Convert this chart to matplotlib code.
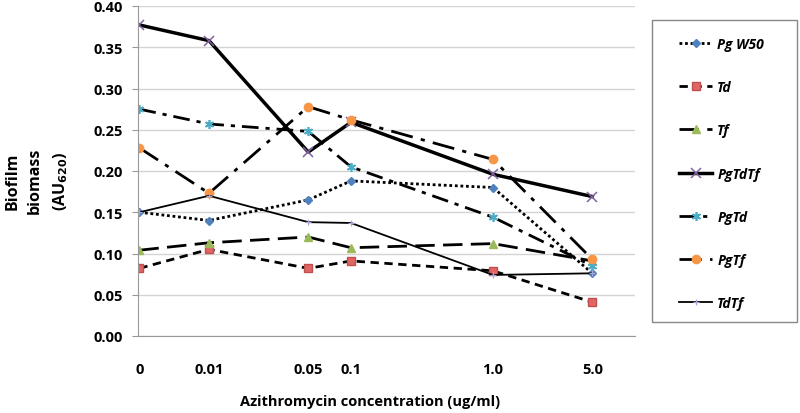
import matplotlib
matplotlib.use("Agg")
import matplotlib.pyplot as plt
from matplotlib.patches import Rectangle
from matplotlib.ticker import FixedLocator, MultipleLocator, NullLocator

plt.rcParams['font.family'] = ['Open Sans', 'DejaVu Sans']

# Data
conc_labels = ["0", "0.01", "0.05", "0.1", "1.0", "5.0"]
conc_values = [0.0, 0.01, 0.05, 0.1, 1.0, 5.0]
zero_pos = 10 ** -2.49  # log-axis stand-in for concentration 0

pg_w50 = [0.150, 0.140, 0.165, 0.188, 0.180, 0.076]
td     = [0.082, 0.105, 0.082, 0.091, 0.079, 0.041]
tf     = [0.104, 0.113, 0.120, 0.107, 0.112, 0.091]
pgtdtf = [0.377, 0.358, 0.223, 0.259, 0.196, 0.169]
pgtd   = [0.275, 0.257, 0.248, 0.205, 0.144, 0.085]
pgtf   = [0.228, 0.173, 0.278, 0.262, 0.214, 0.093]
tdtf   = [0.150, 0.170, 0.138, 0.137, 0.074, 0.076]

x = [zero_pos if c == 0 else c for c in conc_values]

fig = plt.figure(figsize=(8.0, 4.14), dpi=100)
ax = fig.add_axes([138/800, 1 - 337/414, (635-138)/800, (337-7)/414])

series = [
    ("Pg W50", pg_w50, dict(ls=(0, (1, 1)), lw=2.0, marker='D', ms=4.5, mfc='#4F81BD', mec='#4F81BD')),
    ("Td", td, dict(ls=(0, (3, 2)), lw=2.0, marker='s', ms=5.5, mfc='#E06666', mec='#C0504D')),
    ("Tf", tf, dict(ls=(0, (7, 3)), lw=2.0, marker='^', ms=6, mfc='#9BBB59', mec='#9BBB59')),
    ("PgTdTf", pgtdtf, dict(ls='-', lw=2.5, marker='x', ms=7.5, mew=1.1, mfc='#8064A2', mec='#8064A2')),
    ("PgTd", pgtd, dict(ls=(0, (6, 2.5, 1.5, 2.5)), lw=2.0, marker=(6, 2, 0), ms=6.5, mew=1.2, mfc='#4BACC6', mec='#4BACC6')),
    ("PgTf", pgtf, dict(ls=(0, (8, 3, 1.5, 3)), lw=2.0, marker='o', ms=6, mfc='#F79646', mec='#F79646')),
    ("TdTf", tdtf, dict(ls='-', lw=1.3, marker='+', ms=5, mew=0.9, mfc='#A8A8D8', mec='#A8A8D8')),
]

for label, vals, st in series:
    ax.plot(x, vals, color='black', label=label, **st)

ax.set_xscale('log')
ax.set_xlim(10 ** -2.5, 10 ** 1.0)
ax.set_ylim(0, 0.40)
ax.xaxis.set_major_locator(FixedLocator(x))
ax.xaxis.set_minor_locator(NullLocator())
ax.set_xticklabels(conc_labels)
ax.yaxis.set_major_locator(MultipleLocator(0.05))
ax.set_yticklabels([f"{v:.2f}" for v in ax.get_yticks()])

ax.tick_params(axis='x', length=0, pad=19, labelsize=10.5)
ax.tick_params(axis='y', length=4, color='#999999', pad=7, labelsize=10.5)
for lab in ax.get_xticklabels() + ax.get_yticklabels():
    lab.set_fontweight('bold')

ax.grid(axis='y', color='#d4d4d4', lw=1.0)
ax.set_axisbelow(True)
for s in ['top', 'right']:
    ax.spines[s].set_visible(False)
ax.spines['left'].set_color('#999999')
ax.spines['bottom'].set_color('#999999')

fig.text(370/800, 1 - 402/414, "Azithromycin concentration (ug/ml)", ha='center', va='center',
         fontsize=10.5, fontweight='bold')
fig.text(37/800, 1 - 181/414, "Biofilm\nbiomass\n(AU$_{\\mathbf{620}}$)", ha='center', va='center',
         rotation=90, fontsize=11.5, fontweight='bold', linespacing=1.55)

# legend frame
fig.patches.append(Rectangle((652/800, 1 - 323/414), (797-652)/800, (323-21)/414,
                             transform=fig.transFigure, fill=False, edgecolor='#888888', lw=1.0))
leg = ax.legend(loc='upper left', bbox_to_anchor=(679/800, 1 - 38/414), bbox_transform=fig.transFigure,
                frameon=False, labelspacing=2.1,
                handlelength=2.4, borderpad=0, handletextpad=0.35, borderaxespad=0,
                prop=dict(size=10, weight='bold', style='italic'))

fig.savefig("out.png", dpi=100)
